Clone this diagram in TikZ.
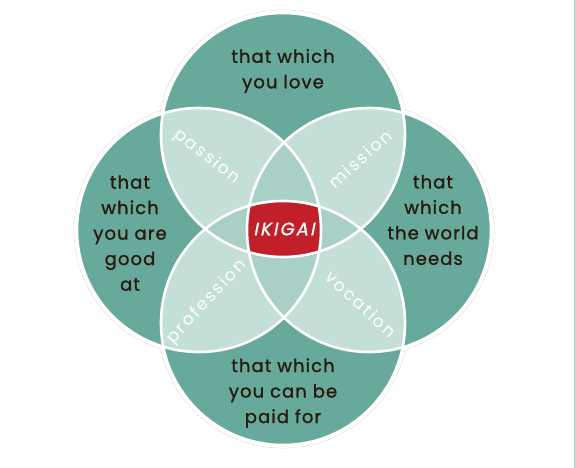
\documentclass[tikz,border=0pt]{standalone}
\usepackage{fontspec}
\setmainfont{Poppins}
\newfontfamily\circfont{Poppins}[LetterSpace=6,FakeBold=1.4]
\newfontfamily\lensfont{Poppins}[LetterSpace=12]
\newfontfamily\ikifont{Poppins}[FakeSlant=0.2,FakeBold=1.2,LetterSpace=12]
\definecolor{tealdark}{HTML}{67AA9C}
\definecolor{teallight}{HTML}{C3DFD7}
\definecolor{tealmid}{HTML}{A9D0C7}
\definecolor{ikired}{HTML}{C1202A}
\definecolor{inkbrown}{HTML}{2A1B12}

\begin{document}
\begin{tikzpicture}[x=1pt,y=-1pt,line join=round,line cap=round,
  circtext/.style={align=center,text=inkbrown,font=\circfont\fontsize{18}{25.5}\selectfont},
  lenstext/.style={text=white,font=\lensfont\fontsize{17}{20}\selectfont}]

  \useasboundingbox (0,0) rectangle (575,468);

  % 1. the four circle centres
  \coordinate (cLove)  at (283,135);
  \coordinate (cGood)  at (199,230);
  \coordinate (cWorld) at (369,230);
  \coordinate (cPaid)  at (283,323);

  % 2. faint outer rim
  \foreach \c in {cLove,cGood,cWorld,cPaid}
    \draw[gray!25, line width=0.6pt] (\c) circle[radius=125pt];
  \foreach \c in {cLove,cGood,cWorld,cPaid}
    \fill[white] (\c) circle[radius=124.6pt];

  % 3. single circles
  \foreach \c in {cLove,cGood,cWorld,cPaid}
    \fill[tealdark] (\c) circle[radius=122pt];

  % 4. two circles overlap
  \foreach \a/\b in {cLove/cGood,cLove/cWorld,cLove/cPaid,cGood/cWorld,cGood/cPaid,cWorld/cPaid}
  {
    \begin{scope}
      \clip (\a) circle[radius=122pt];
      \fill[teallight] (\b) circle[radius=122pt];
    \end{scope}
  }

  % 5. three circles overlap
  \foreach \a/\b/\d in {cLove/cGood/cWorld,cLove/cGood/cPaid,cLove/cWorld/cPaid,cGood/cWorld/cPaid}
  {
    \begin{scope}
      \clip (\a) circle[radius=122pt];
      \clip (\b) circle[radius=122pt];
      \fill[tealmid] (\d) circle[radius=122pt];
    \end{scope}
  }

  % 6. all four: ikigai
  \begin{scope}
    \clip (cLove) circle[radius=122pt];
    \clip (cGood) circle[radius=122pt];
    \clip (cWorld) circle[radius=122pt];
    \fill[ikired] (cPaid) circle[radius=122pt];
  \end{scope}

  % 7. white rims
  \foreach \c in {cLove,cGood,cWorld,cPaid}
    \draw[white, line width=2.6pt] (\c) circle[radius=122pt];

  % 8. texts
  \node[circtext] (love)  at (283,71)  {that which\\you love};
  \node[circtext] (good)  at (130,233) {that\\which\\you are\\good\\at};
  \node[circtext] (world) at (433,220) {that\\which\\the world\\needs};
  \node[circtext] (paid)  at (283,393) {that which\\you can be\\paid for};

  \node[lenstext, rotate=-38] (passion)    at (207,157) {passion};
  \node[lenstext, rotate=42]  (mission)    at (360,159) {mission};
  \node[lenstext, rotate=47]  (profession) at (207,302) {profession};
  \node[lenstext, rotate=-43] (vocation)   at (361,304) {vocation};

  \node[text=white, font=\ikifont\fontsize{18}{20}\selectfont] (ikigai) at (284,229) {IKIGAI};

  % 9. edge line at the right
  \draw[tealmid, line width=1pt] (574.5,0) -- (574.5,468);

\end{tikzpicture}
\end{document}
